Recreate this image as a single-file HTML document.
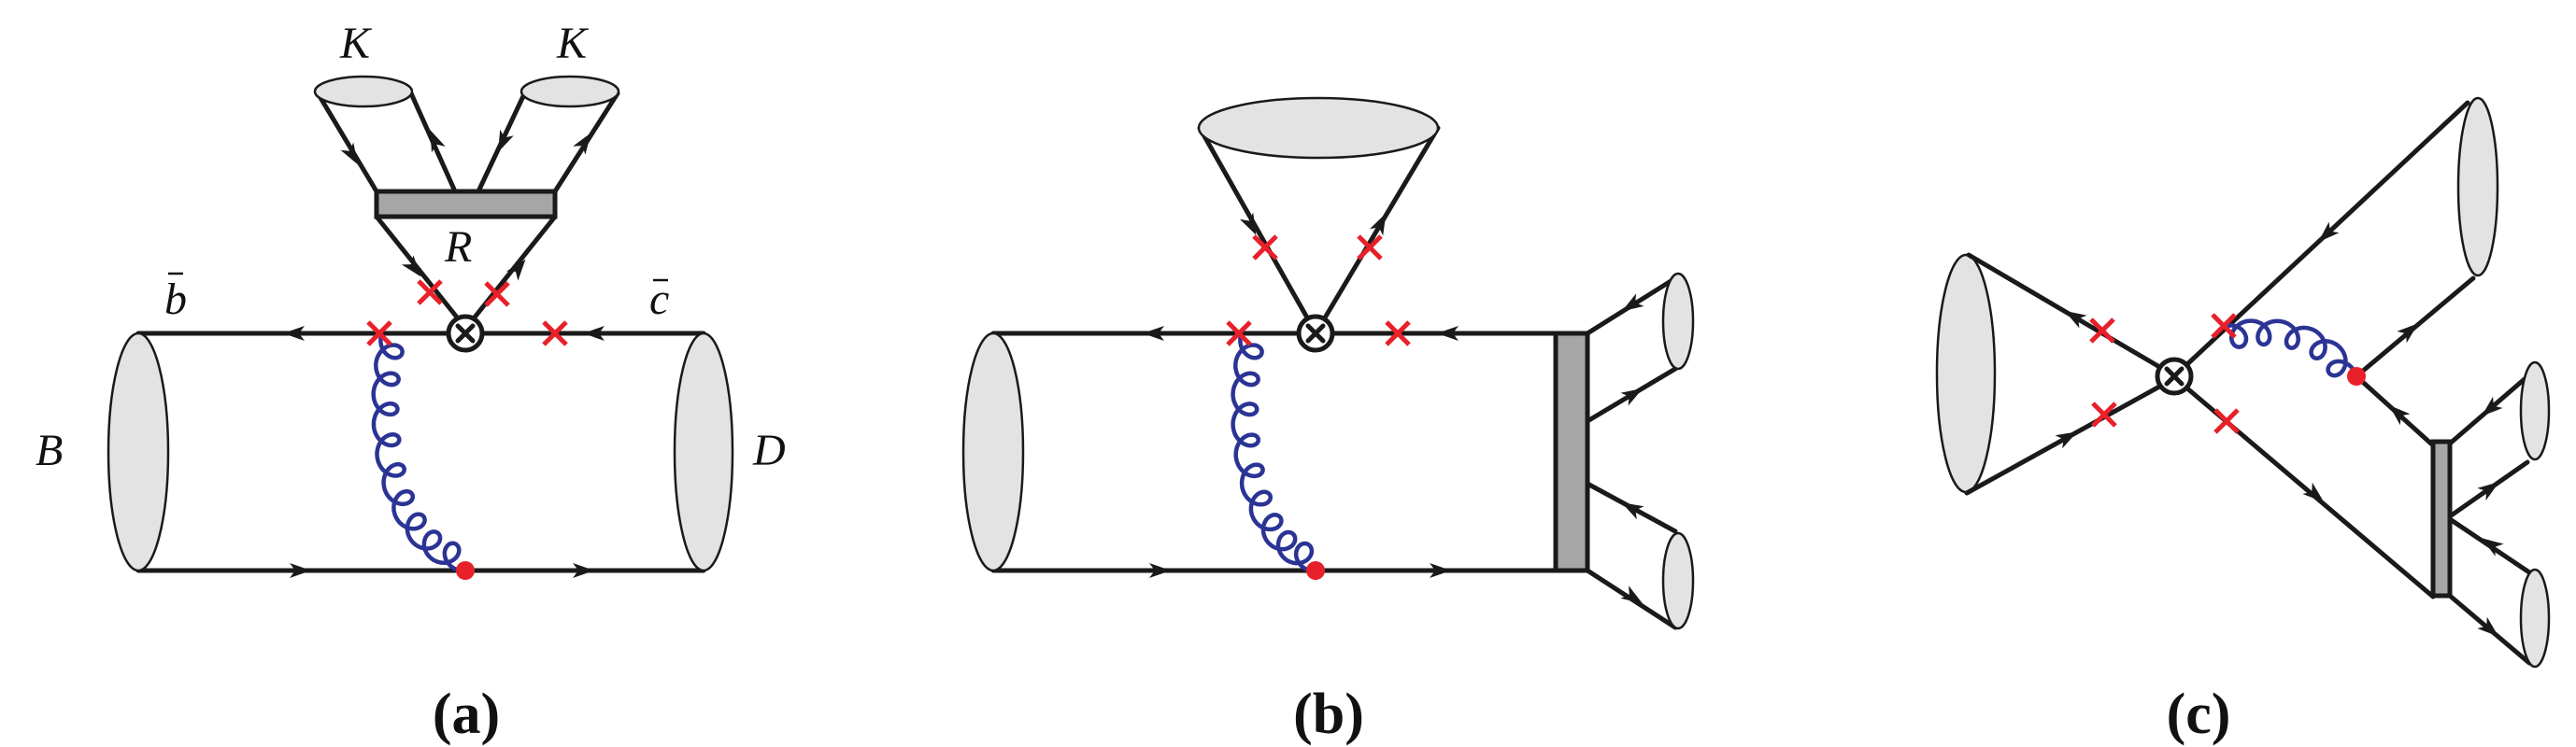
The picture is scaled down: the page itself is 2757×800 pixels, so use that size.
<!DOCTYPE html>
<html><head><meta charset="utf-8"><style>
html,body{margin:0;padding:0;background:#fff;width:2757px;height:800px;overflow:hidden}
svg{display:block}
.t{font-family:"Liberation Serif",serif;font-style:italic;font-size:48px;fill:#111}
.l{font-family:"Liberation Serif",serif;font-weight:bold;font-size:62px;fill:#111}
</style></head><body>
<svg id="s" width="2757" height="800" viewBox="0 0 2757 800" xmlns="http://www.w3.org/2000/svg">
<g id="g" stroke-linecap="round"></g>
<text class="t" x="364" y="62">K</text>
<text class="t" x="596" y="62">K</text>
<text class="t" x="476" y="280">R</text>
<text class="t" x="176" y="336">b</text>
<line x1="180" y1="293" x2="196" y2="293" stroke="#111" stroke-width="2.5"/>
<text class="t" x="695" y="336">c</text>
<line x1="699" y1="300" x2="715" y2="300" stroke="#111" stroke-width="2.5"/>
<text class="t" x="38" y="498">B</text>
<text class="t" x="806" y="498">D</text>
<text class="l" x="499" y="785" text-anchor="middle">(a)</text>
<text class="l" x="1422" y="785" text-anchor="middle">(b)</text>
<text class="l" x="2353" y="785" text-anchor="middle">(c)</text>
</svg>
<script>
var g=document.getElementById('g'),out='';
function L(x1,y1,x2,y2,w){out+='<line x1="'+x1+'" y1="'+y1+'" x2="'+x2+'" y2="'+y2+'" stroke="#1a1a1a" stroke-width="'+(w||5)+'"/>';}
function E(cx,cy,rx,ry){out+='<ellipse cx="'+cx+'" cy="'+cy+'" rx="'+rx+'" ry="'+ry+'" fill="#e3e3e3" stroke="#1a1a1a" stroke-width="2.5"/>';}
function R(x,y,w,h){out+='<rect x="'+x+'" y="'+y+'" width="'+w+'" height="'+h+'" fill="#a6a6a6" stroke="#1a1a1a" stroke-width="5"/>';}
function A(x,y,dx,dy){var l=Math.hypot(dx,dy),ux=dx/l,uy=dy/l,nx=-uy,ny=ux;
 var p=[[x+ux*12,y+uy*12],[x-ux*11+nx*8,y-uy*11+ny*8],[x-ux*5,y-uy*5],[x-ux*11-nx*8,y-uy*11-ny*8]];
 out+='<polygon points="'+p.map(function(q){return q[0].toFixed(1)+','+q[1].toFixed(1)}).join(' ')+'" fill="#1a1a1a"/>';}
function X(x,y){var s=12;out+='<path d="M'+(x-s)+' '+(y-s)+'L'+(x+s)+' '+(y+s)+'M'+(x+s)+' '+(y-s)+'L'+(x-s)+' '+(y+s)+'" stroke="#e8202a" stroke-width="5" stroke-linecap="butt"/>';}
function O(x,y){out+='<circle cx="'+x+'" cy="'+y+'" r="18" fill="#fff" stroke="#1a1a1a" stroke-width="5"/>';var s=8;out+='<path d="M'+(x-s)+' '+(y-s)+'L'+(x+s)+' '+(y+s)+'M'+(x+s)+' '+(y-s)+'L'+(x-s)+' '+(y+s)+'" stroke="#1a1a1a" stroke-width="5"/>';}
function D(x,y){out+='<circle cx="'+x+'" cy="'+y+'" r="10" fill="#e8202a"/>';}
function G(p0,c1,c2,p3,N,b,sg){
 function B(t){var m=1-t;return[m*m*m*p0[0]+3*m*m*t*c1[0]+3*m*t*t*c2[0]+t*t*t*p3[0],m*m*m*p0[1]+3*m*m*t*c1[1]+3*m*t*t*c2[1]+t*t*t*p3[1]];}
 var d='',M=1000;
 for(var i=0;i<=M;i++){var t=i/M,p=B(t),q=B(Math.min(1,t+0.001)),r=B(Math.max(0,t-0.001));
  var tx=q[0]-r[0],ty=q[1]-r[1],l=Math.hypot(tx,ty);tx/=l;ty/=l;var nx=-ty*sg,ny=tx*sg;
  var th=2*Math.PI*N*t;var x=p[0]+b*Math.sin(th)*tx+b*(1-Math.cos(th))*nx,y=p[1]+b*Math.sin(th)*ty+b*(1-Math.cos(th))*ny;
  d+=(i?'L':'M')+x.toFixed(1)+' '+y.toFixed(1);}
 out+='<path d="'+d+'" fill="none" stroke="#2b3494" stroke-width="4.5"/>';}
/* ===== panel a ===== */
L(148,357,480,357);L(516,357,753,357);L(148,611,753,611);
E(148,484,32,127);E(753,484,31,127);
A(315,357,-1,0);A(636,357,-1,0);A(321,611,1,0);A(624,611,1,0);
G([408,359],[388,440],[398,590],[492,611],9,13,-1);
L(403,232,490,341);L(594,232,507,341);
A(443,287,40,50);A(555,287,40,-50);
R(403,205,191,27);
L(403,205,339,98);L(487,205,440,100);L(512,205,560,103);L(594,205,661,100);
A(377,166,37,62);A(465,150,-26,-60);A(538,152,-26,58);A(626,152,38,-56);
E(389,98,52,16);E(610,98,52,16);
X(406,357);X(594,357);X(460,313);X(532,315);O(498,357);D(498,611);
/* ===== panel b ===== */
L(1063,357,1390,357);L(1426,357,1665,357);L(1063,611,1665,611);
E(1063,484,32,127);
A(1235,357,-1,0);A(1550,357,-1,0);A(1241,611,1,0);A(1541,611,1,0);
G([1328,359],[1308,440],[1318,590],[1402,611],9,13,-1);
L(1284,137,1400,342);L(1539,137,1417,342);
A(1339,241,55,110);A(1478,239,60,-120);
E(1411,137,128,32);
R(1665,357,34,254);
L(1699,357,1793,298);L(1699,451,1793,395);L(1699,518,1793,569);L(1699,611,1793,672);
E(1796,344,16,51);E(1796,622,16,51);
A(1746,327,-94,59);A(1748,422,94,-56);A(1746,544,-94,-51);A(1748,640,94,61);
X(1326,357);X(1496,357);X(1354,265);X(1466,265);O(1408,357);D(1408,611);
/* ===== panel c ===== */
E(2104,400,31,127);
L(2107,273,2313,394);L(2105,528,2313,413);
A(2220,339,-206,-121);A(2213,468,208,-115);
L(2341,390,2641,110);
E(2652,200,21,95);
A(2490,251,-300,280);
L(2647,298,2522,403);A(2579,354,125,-105);
G([2380,350],[2415,335],[2505,340],[2522,403],5,13,1);
L(2522,403,2604,477);A(2566,442,-82,-74);
L(2341,416,2604,639);A(2478,530,263,223);
R(2604,473,18,165);
L(2622,475,2703,405);L(2622,553,2705,495);L(2622,556,2707,613);L(2622,638,2707,710);
E(2713,440,15,52);E(2713,662,15,52);
A(2665,438,-81,70);A(2665,523,83,-58);A(2666,583,-85,-57);A(2665,674,85,72);
X(2250,354);X(2252,444);X(2380,349);X(2383,451);O(2327,403);D(2522,403);
g.innerHTML=out;
</script>
</body></html>
